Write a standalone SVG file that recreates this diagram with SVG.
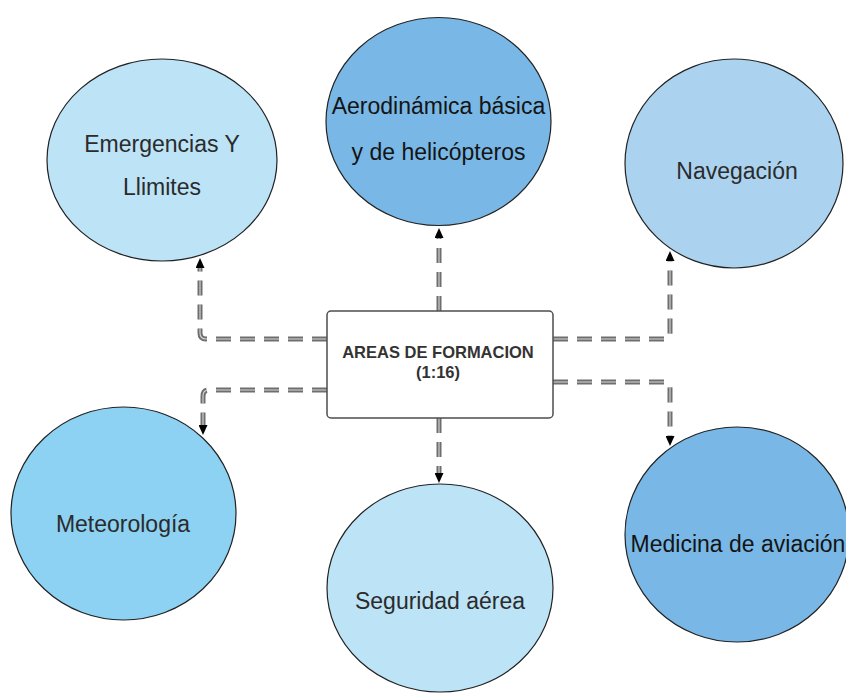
<svg xmlns="http://www.w3.org/2000/svg" width="846" height="694" viewBox="0 0 846 694">
<style>
.bg{fill:#ffffff}
.node ellipse{stroke:#222;stroke-width:1.2}
.lbl{font-family:"Liberation Sans",Arial,sans-serif;font-size:23px;text-anchor:middle;fill:#2b2b2b}
.dark{fill:#141414}
.box{fill:#fff;stroke:#4d4d4d;stroke-width:1.5}
.boxt{font-family:"Liberation Sans",Arial,sans-serif;font-size:16.5px;font-weight:bold;text-anchor:middle;fill:#333}
.c-out{fill:none;stroke:#6e6e6e;stroke-width:5;stroke-dasharray:15 9}
.c-in{fill:none;stroke:#d8d8d8;stroke-width:1.1;stroke-dasharray:15 9}
</style>
<defs>
<marker id="arr" markerUnits="userSpaceOnUse" markerWidth="10" markerHeight="9" viewBox="0 0 10 9" refX="0" refY="4.5" orient="auto">
<path d="M0,0 L10,4.5 L0,9 z" fill="#000"/>
</marker>
</defs>
<rect class="bg" x="0" y="0" width="846" height="694"/>

<g id="n-emergencias" class="node">
<ellipse cx="162" cy="160" rx="115" ry="101" fill="#bde3f7"/>
<text class="lbl" x="162" y="152">Emergencias Y</text>
<text class="lbl" x="162" y="195">Llimites</text>
</g>
<g id="n-aerodinamica" class="node">
<ellipse cx="438.5" cy="121.5" rx="112.5" ry="104" fill="#79b8e6"/>
<text class="lbl dark" x="438.5" y="114">Aerodinámica básica</text>
<text class="lbl dark" x="438.5" y="160">y de helicópteros</text>
</g>
<g id="n-navegacion" class="node">
<ellipse cx="734" cy="163.5" rx="109" ry="104.5" fill="#abd3f0"/>
<text class="lbl" x="737" y="179">Navegación</text>
</g>
<g id="n-meteorologia" class="node">
<ellipse cx="123.5" cy="513.5" rx="112.5" ry="106.5" fill="#8dd2f3"/>
<text class="lbl" x="123" y="532">Meteorología</text>
</g>
<g id="n-seguridad" class="node">
<ellipse cx="440" cy="588" rx="113" ry="104" fill="#bde3f7"/>
<text class="lbl" x="440" y="609">Seguridad aérea</text>
</g>
<g id="n-medicina" class="node">
<ellipse cx="737" cy="534.5" rx="112" ry="107.5" fill="#79b8e6"/>
<text class="lbl dark" x="738" y="552">Medicina de aviación</text>
</g>

<g id="connectors">
<path class="c-out" d="M327,339 H206 Q200,339 200,333 V268"/>
<path class="c-in" d="M327,339 H206 Q200,339 200,333 V268" marker-end="url(#arr)"/>
<path class="c-out" d="M439,311 V238"/>
<path class="c-in" d="M439,311 V238" marker-end="url(#arr)"/>
<path class="c-out" d="M553,339 H664 Q670,339 670,333 V261"/>
<path class="c-in" d="M553,339 H664 Q670,339 670,333 V261" marker-end="url(#arr)"/>
<path class="c-out" d="M553,382 H664 Q670,382 670,388 V436"/>
<path class="c-in" d="M553,382 H664 Q670,382 670,388 V436" marker-end="url(#arr)"/>
<path class="c-out" d="M327,390 H209 Q203,390 203,396 V425"/>
<path class="c-in" d="M327,390 H209 Q203,390 203,396 V425" marker-end="url(#arr)"/>
<path class="c-out" d="M439,418 V473"/>
<path class="c-in" d="M439,418 V473" marker-end="url(#arr)"/>
</g>

<g id="n-areas">
<rect class="box" x="327" y="311" width="226" height="107" rx="4"/>
<text class="boxt" x="438" y="358">AREAS DE FORMACION</text>
<text class="boxt" x="438" y="378">(1:16)</text>
</g>
</svg>
